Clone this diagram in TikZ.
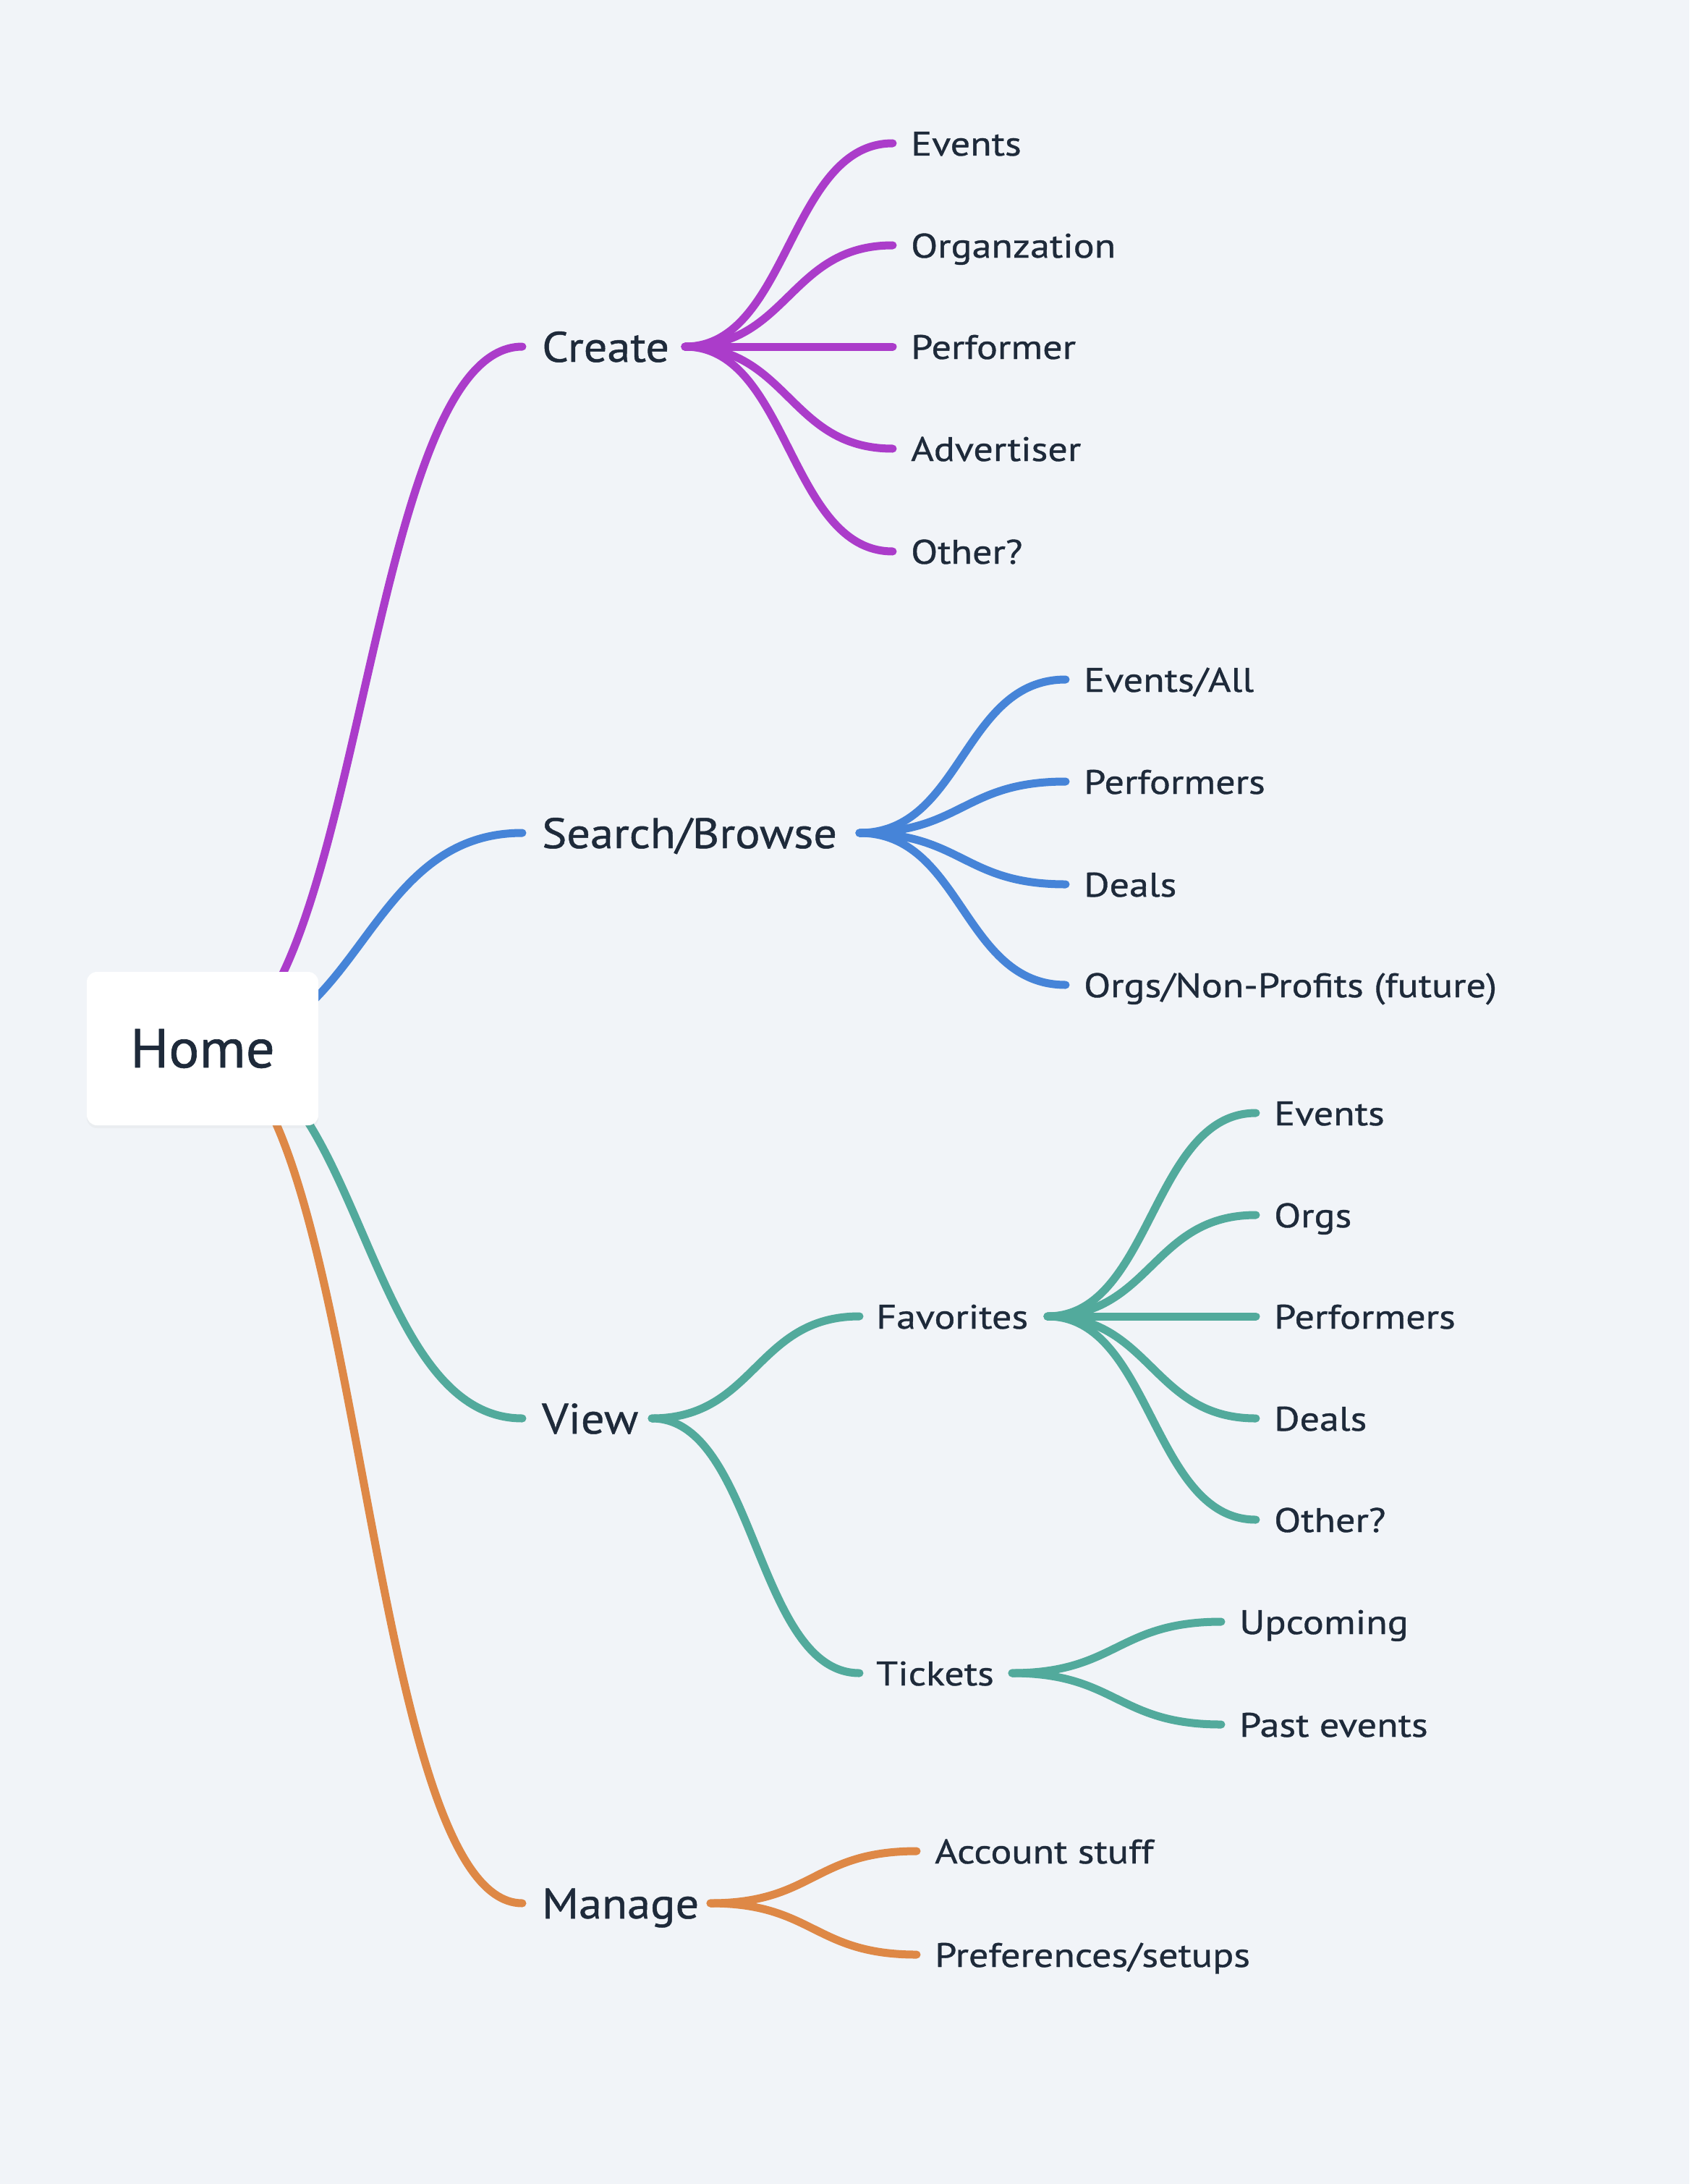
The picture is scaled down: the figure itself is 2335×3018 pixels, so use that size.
\documentclass[tikz,border=0pt]{standalone}
\usepackage{fontspec}
\setmainfont{PT Sans}
\newfontfamily\leaffont[FakeStretch=1.15,FakeBold=0.8]{PT Sans}
\newfontfamily\onefont[FakeStretch=1.09,FakeBold=0.8]{PT Sans}
\newfontfamily\homefont[FakeStretch=1.04,FakeBold=0.8]{PT Sans}
\usetikzlibrary{calc,shadows}
\definecolor{bg}{HTML}{F1F4F8}
\definecolor{ink}{HTML}{1E2A3A}
\definecolor{cpurple}{HTML}{AB3CCA}
\definecolor{cblue}{HTML}{4684D8}
\definecolor{cteal}{HTML}{52AA9C}
\definecolor{corange}{HTML}{DE8846}
\tikzset{
  conn/.style={line width=11pt, line cap=round},
  leaf/.style={anchor=base west, inner sep=0pt, text=ink, font=\leaffont\fontsize{47}{56}\selectfont},
  lvlone/.style={anchor=base west, inner sep=0pt, text=ink, font=\onefont\fontsize{59}{72}\selectfont},
  homebox/.style={fill=white, rounded corners=14pt, minimum width=320pt, minimum height=212pt, inner sep=0pt, text=ink, font=\homefont\fontsize{76}{90}\selectfont, drop shadow={opacity=0.06, shadow xshift=0pt, shadow yshift=-4pt}},
}
\newcommand\mmcurve[3]{\draw[conn,#1] let \p1=(#2), \p2=(#3) in (\p1) .. controls ({0.5*\x1+0.5*\x2},\y1) and ({0.5*\x1+0.5*\x2},\y2) .. (\p2);}
\begin{document}
\begin{tikzpicture}[x=1pt,y=-1pt]
\fill[bg] (0,0) rectangle (2335,3018);
\useasboundingbox (0,0) rectangle (2335,3018);
% coordinates
\coordinate (H) at (280,1449);
\coordinate (createIn) at (722,479);
\coordinate (createOut) at (947,479);
\coordinate (cE) at (1234,198);
\coordinate (cO) at (1234,339);
\coordinate (cP) at (1234,479);
\coordinate (cA) at (1234,620);
\coordinate (cX) at (1234,762);
\coordinate (searchIn) at (722,1151);
\coordinate (searchOut) at (1188,1151);
\coordinate (sE) at (1473,939);
\coordinate (sP) at (1473,1080);
\coordinate (sD) at (1473,1222);
\coordinate (sO) at (1473,1361);
\coordinate (viewIn) at (722,1960);
\coordinate (viewOut) at (901,1960);
\coordinate (favIn) at (1188,1819);
\coordinate (tixIn) at (1188,2312);
\coordinate (favOut) at (1448,1819);
\coordinate (fE) at (1736,1538);
\coordinate (fO) at (1736,1679);
\coordinate (fP) at (1736,1819);
\coordinate (fD) at (1736,1960);
\coordinate (fX) at (1736,2100);
\coordinate (tixOut) at (1399,2312);
\coordinate (tU) at (1688,2241);
\coordinate (tP) at (1688,2383);
\coordinate (manIn) at (722,2630);
\coordinate (manOut) at (982,2630);
\coordinate (mA) at (1267,2558);
\coordinate (mP) at (1267,2701);
% connectors
\mmcurve{cpurple}{H}{createIn}
\mmcurve{cblue}{H}{searchIn}
\mmcurve{cteal}{H}{viewIn}
\mmcurve{corange}{H}{manIn}
\foreach \c in {cE,cO,cP,cA,cX}{\mmcurve{cpurple}{createOut}{\c}}
\foreach \c in {sE,sP,sD,sO}{\mmcurve{cblue}{searchOut}{\c}}
\foreach \c in {favIn,tixIn}{\mmcurve{cteal}{viewOut}{\c}}
\foreach \c in {fE,fO,fP,fD,fX}{\mmcurve{cteal}{favOut}{\c}}
\foreach \c in {tU,tP}{\mmcurve{cteal}{tixOut}{\c}}
\foreach \c in {mA,mP}{\mmcurve{corange}{manOut}{\c}}
% nodes
\node[homebox] (home) at (H) {Home};
\node[lvlone] (create) at ($(createIn)+(27,21)$) {Create};
\node[lvlone] (search) at ($(searchIn)+(27,21)$) {Search/Browse};
\node[lvlone] (view) at ($(viewIn)+(27,21)$) {View};
\node[lvlone] (manage) at ($(manIn)+(27,21)$) {Manage};
\node[leaf] (ncE) at ($(cE)+(25,17)$) {Events};
\node[leaf] (ncO) at ($(cO)+(25,17)$) {Organzation};
\node[leaf] (ncP) at ($(cP)+(25,17)$) {Performer};
\node[leaf] (ncA) at ($(cA)+(25,17)$) {Advertiser};
\node[leaf] (ncX) at ($(cX)+(25,17)$) {Other?};
\node[leaf] (nsE) at ($(sE)+(25,17)$) {Events/All};
\node[leaf] (nsP) at ($(sP)+(25,17)$) {Performers};
\node[leaf] (nsD) at ($(sD)+(25,17)$) {Deals};
\node[leaf] (nsO) at ($(sO)+(25,17)$) {Orgs/Non-Profits (future)};
\node[leaf] (fav) at ($(favIn)+(23,17)$) {Favorites};
\node[leaf] (tix) at ($(tixIn)+(23,17)$) {Tickets};
\node[leaf] (nfE) at ($(fE)+(25,17)$) {Events};
\node[leaf] (nfO) at ($(fO)+(25,17)$) {Orgs};
\node[leaf] (nfP) at ($(fP)+(25,17)$) {Performers};
\node[leaf] (nfD) at ($(fD)+(25,17)$) {Deals};
\node[leaf] (nfX) at ($(fX)+(25,17)$) {Other?};
\node[leaf] (ntU) at ($(tU)+(25,17)$) {Upcoming};
\node[leaf] (ntP) at ($(tP)+(25,17)$) {Past events};
\node[leaf] (nmA) at ($(mA)+(25,17)$) {Account stuff};
\node[leaf] (nmP) at ($(mP)+(25,17)$) {Preferences/setups};
\end{tikzpicture}
\end{document}
